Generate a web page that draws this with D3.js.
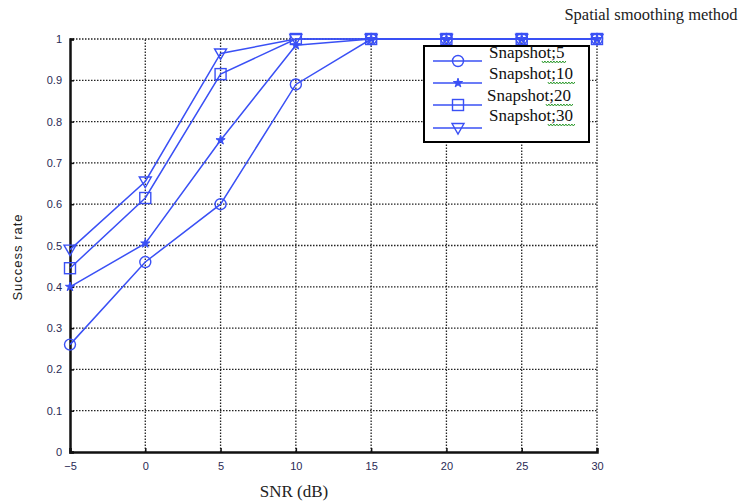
<!DOCTYPE html>
<html>
<head>
<meta charset="utf-8">
<script src="https://cdn.jsdelivr.net/npm/d3@7"></script>
<style>
  body { margin: 0; background: #fff; }
  svg { display: block; }
</style>
</head>
<body>
<div id="chart"></div>
<script>
// values
var snr = [-5, 0, 5, 10, 15, 20, 25, 30];
var snap5  = [0.26, 0.46, 0.60, 0.89, 1, 1, 1, 1];
var snap10 = [0.40, 0.505, 0.755, 0.985, 1, 1, 1, 1];
var snap20 = [0.445, 0.615, 0.915, 1, 1, 1, 1, 1];
var snap30 = [0.49, 0.655, 0.965, 1, 1, 1, 1, 1];
var seriesNames = ["Snapshot;5", "Snapshot;10", "Snapshot;20", "Snapshot;30"];
var markers = ["circle", "star", "square", "triangle"];
var xTicks = [-5, 0, 5, 10, 15, 20, 25, 30];
var yTicks = [0, 0.1, 0.2, 0.3, 0.4, 0.5, 0.6, 0.7, 0.8, 0.9, 1];

var width = 746, height = 501;
var margin = {top: 39, right: 149, bottom: 49, left: 70};
var blue = "#3a50f5";

var svg = d3.select("#chart").append("svg")
    .attr("width", width)
    .attr("height", height);

var x = d3.scaleLinear().domain([-5, 30]).range([margin.left, width - margin.right]);
var y = d3.scaleLinear().domain([0, 1]).range([height - margin.bottom, margin.top]);

// grid
svg.append("g").selectAll("line.v")
    .data(xTicks.slice(1))
    .join("line")
    .attr("x1", d => x(d)).attr("x2", d => x(d))
    .attr("y1", y(0)).attr("y2", y(1))
    .style("stroke", "#222").style("stroke-width", 1.3)
    .style("stroke-dasharray", "1.5,1.5");
svg.append("g").selectAll("line.h")
    .data(yTicks.slice(1))
    .join("line")
    .attr("x1", x(-5)).attr("x2", x(30))
    .attr("y1", d => y(d)).attr("y2", d => y(d))
    .style("stroke", "#222").style("stroke-width", 1.3)
    .style("stroke-dasharray", "1.5,1.5");

// axes
var xAxis = svg.append("g")
    .attr("transform", "translate(0," + y(0) + ")")
    .call(d3.axisBottom(x).tickValues(xTicks).tickSize(-4).tickPadding(10).tickFormat(d3.format("d")));
var yAxis = svg.append("g")
    .attr("transform", "translate(" + x(-5) + ",0)")
    .call(d3.axisLeft(y).tickValues(yTicks).tickSize(-4).tickPadding(8).tickFormat(d => d === 0 || d === 1 ? d : d.toFixed(1)));
[xAxis, yAxis].forEach(function(a) {
    a.select(".domain").style("stroke", "#111").style("stroke-width", 2.5);
    a.selectAll(".tick line").style("stroke", "#111").style("stroke-width", 1.5);
    a.selectAll(".tick text")
        .style("font-family", "Liberation Sans, Arial, sans-serif")
        .style("font-size", "11px")
        .style("fill", "#2a2a55");
});

// markers
function drawMarker(g, type, cx, cy) {
    if (type === "circle") {
        g.append("circle").attr("cx", cx).attr("cy", cy).attr("r", 5.5)
            .style("fill", "none").style("stroke", blue).style("stroke-width", 1.4);
    } else if (type === "star") {
        g.append("path")
            .attr("d", d3.symbol().type(d3.symbolStar).size(26)())
            .attr("transform", "translate(" + cx + "," + cy + ")")
            .style("fill", blue).style("stroke", blue).style("stroke-width", 1);
    } else if (type === "square") {
        g.append("rect").attr("x", cx - 5.5).attr("y", cy - 5.5).attr("width", 11).attr("height", 11)
            .style("fill", "none").style("stroke", blue).style("stroke-width", 1.4);
    } else {
        g.append("path")
            .attr("d", "M" + (cx - 6) + "," + (cy - 4.5) + "L" + (cx + 6) + "," + (cy - 4.5) + "L" + cx + "," + (cy + 6) + "Z")
            .style("fill", "none").style("stroke", blue).style("stroke-width", 1.4);
    }
}

var allSeries = [snap5, snap10, snap20, snap30];
var line = d3.line().x((d, i) => x(snr[i])).y(d => y(d));

allSeries.forEach(function(vals, k) {
    var g = svg.append("g");
    g.append("path").datum(vals)
        .attr("d", line)
        .style("fill", "none").style("stroke", blue).style("stroke-width", 1.5);
    vals.forEach(function(v, i) { drawMarker(g, markers[k], x(snr[i]), y(v)); });
});

// legend
var lg = svg.append("g").attr("transform", "translate(424,46)");
lg.append("rect").attr("width", 165).attr("height", 96)
    .style("fill", "#fff").style("stroke", "#000").style("stroke-width", 2);
var textY = [6, 27, 49, 69];   // text centres, relative to box top
var lineY = [15, 37, 59, 82];
var textX = [65, 65, 63, 65];
seriesNames.forEach(function(name, k) {
    lg.append("line").attr("x1", 9).attr("x2", 58).attr("y1", lineY[k]).attr("y2", lineY[k])
        .style("stroke", blue).style("stroke-width", 1.5);
    drawMarker(lg, markers[k], 34, lineY[k]);
    var t = lg.append("text").attr("x", textX[k]).attr("y", textY[k] + 6)
        .style("font-family", "Liberation Serif, Times New Roman, serif")
        .style("font-size", "17px").style("fill", "#111")
        .text(name);
    // spell-check squiggle under the number part
    var w = t.node().getComputedTextLength();
    var start = textX[k] + w * 0.7, end = textX[k] + w + 1;
    var d = "M" + start + "," + (textY[k] + 9);
    for (var px = start; px < end; px += 3) {
        d += "L" + (px + 1.5) + "," + (textY[k] + 11) + "L" + (px + 3) + "," + (textY[k] + 9);
    }
    lg.append("path").attr("d", d).style("fill", "none").style("stroke", "#2c9a2c").style("stroke-width", 1);
});

// titles
svg.append("text").attr("x", 651).attr("y", 20).attr("text-anchor", "middle")
    .style("font-family", "Liberation Serif, Times New Roman, serif").style("font-size", "16.5px")
    .style("fill", "#222").text("Spatial smoothing method");
svg.append("text").attr("x", 294).attr("y", 497).attr("text-anchor", "middle")
    .style("font-family", "Liberation Serif, Times New Roman, serif").style("font-size", "17px")
    .style("fill", "#222").text("SNR (dB)");
svg.append("text").attr("transform", "translate(22,257) rotate(-90)").attr("text-anchor", "middle")
    .style("font-family", "Liberation Sans, Arial, sans-serif").style("font-size", "13px")
    .style("letter-spacing", "1px")
    .style("fill", "#222").text("Success rate");
</script>
</body>
</html>
